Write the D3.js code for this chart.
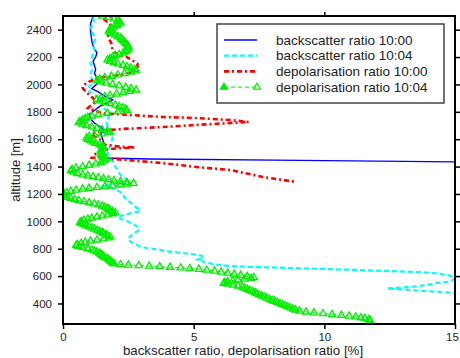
<!DOCTYPE html>
<html>
<head>
<meta charset="utf-8">
<script src="https://cdn.jsdelivr.net/npm/d3@7"></script>
<style>
  body { margin: 0; background: #fff; }
  svg { display: block; font-family: "Liberation Sans", Arial, sans-serif; }
</style>
</head>
<body>
<div id="chart"></div>
<script>
// backscatter ratio 10:00 (blue, solid)
const blueAlt = [2500, 2470, 2440, 2400, 2350, 2300, 2260, 2230, 2200, 2170, 2140, 2110, 2080, 2050, 2020, 1995, 1970, 1945, 1915, 1887, 1865, 1840, 1810, 1780, 1760, 1740, 1718, 1700, 1680, 1660, 1640, 1610, 1580, 1550, 1520, 1495, 1475, 1463, 1455, 1445, 1434, 1425];
const blueVal = [1.15, 1.1, 1.05, 1.05, 1.08, 1.12, 1.2, 1.3, 1.25, 1.15, 1.2, 1.25, 1.2, 1.3, 1.4, 1.25, 1.1, 1.35, 1.6, 1.9, 1.7, 1.4, 1.2, 1.0, 1.05, 1.1, 1.2, 1.35, 1.5, 1.55, 1.45, 1.5, 1.55, 1.5, 1.55, 1.5, 1.55, 1.6, 3.3, 9.1, 15.0, 16.5];

// backscatter ratio 10:04 (cyan, dashed)
const cyanAlt = [2490, 2460, 2430, 2400, 2370, 2340, 2310, 2280, 2250, 2220, 2190, 2160, 2130, 2100, 2070, 2040, 2010, 1985, 1960, 1935, 1910, 1880, 1850, 1820, 1790, 1760, 1730, 1700, 1670, 1640, 1610, 1580, 1550, 1520, 1490, 1460, 1430, 1400, 1370, 1340, 1310, 1290, 1275, 1262, 1248, 1225, 1200, 1175, 1150, 1120, 1095, 1075, 1055, 1040, 1025, 1005, 985, 960, 935, 910, 885, 860, 840, 820, 805, 795, 783, 770, 758, 750, 735, 720, 700, 685, 675, 668, 663, 658, 652, 645, 637, 630, 620, 605, 590, 575, 560, 550, 537, 525, 515, 510, 503, 495, 487, 480, 475, 470];
const cyanVal = [1.15, 1.2, 1.1, 1.05, 1.15, 1.25, 1.2, 1.15, 1.2, 1.15, 1.1, 1.05, 1.1, 1.1, 1.05, 1.1, 1.15, 1.0, 0.95, 1.1, 1.3, 1.45, 1.55, 1.6, 1.7, 1.75, 1.65, 1.7, 1.8, 1.85, 1.9, 1.85, 1.8, 1.75, 1.7, 1.8, 1.95, 2.0, 2.1, 2.2, 2.4, 2.5, 2.0, 1.5, 1.8, 2.1, 2.3, 2.35, 2.5, 2.7, 2.85, 2.95, 2.5, 2.2, 2.1, 2.4, 2.65, 2.85, 2.9, 2.7, 2.55, 2.5, 2.7, 2.9, 3.2, 3.6, 3.9, 4.5, 5.0, 5.3, 5.4, 5.15, 5.45, 5.8, 6.3, 7.0, 8.0, 9.0, 10.0, 11.2, 12.4, 13.6, 14.3, 14.75, 15.0, 14.95, 14.8, 14.3, 14.0, 13.5, 12.8, 12.4, 13.0, 13.5, 14.2, 14.8, 15.1, 15.6];

// depolarisation ratio 10:00 (red, dash-dot)
const redAlt = [2480, 2455, 2435, 2400, 2375, 2340, 2300, 2250, 2230, 2200, 2170, 2150, 2120, 2090, 2060, 2047, 2020, 1996, 1975, 1950, 1925, 1900, 1872, 1850, 1828, 1810, 1790, 1777, 1762, 1755, 1740, 1726, 1718, 1704, 1689, 1675, 1665, 1645, 1620, 1600, 1580, 1560, 1545, 1540, 1532, 1520, 1500, 1480, 1465, 1455, 1445, 1426, 1397, 1375, 1324, 1287];
const redVal = [1.55, 1.7, 1.8, 1.85, 1.7, 1.75, 1.85, 1.9, 2.0, 2.45, 2.7, 2.85, 2.85, 2.7, 1.9, 1.3, 1.0, 0.8, 0.75, 0.85, 1.0, 1.15, 1.25, 1.1, 0.95, 1.2, 1.5, 2.56, 3.83, 5.1, 6.4, 7.1, 6.4, 5.1, 3.83, 2.3, 1.6, 1.1, 1.2, 1.4, 1.5, 1.6, 2.2, 2.75, 2.0, 1.5, 1.3, 1.15, 1.1, 2.0, 2.6, 3.8, 5.1, 6.4, 7.65, 8.95];

// depolarisation ratio 10:04 (green, dashed with triangles)
const greenAlt = [2500, 2490, 2480, 2470, 2460, 2450, 2440, 2430, 2420, 2410, 2400, 2390, 2380, 2370, 2360, 2350, 2340, 2330, 2320, 2310, 2300, 2290, 2280, 2270, 2260, 2250, 2240, 2230, 2220, 2210, 2200, 2190, 2180, 2170, 2160, 2150, 2140, 2130, 2120, 2110, 2100, 2090, 2080, 2070, 2060, 2050, 2040, 2030, 2020, 2010, 2000, 1990, 1980, 1970, 1960, 1950, 1940, 1930, 1920, 1910, 1900, 1890, 1880, 1870, 1860, 1850, 1840, 1830, 1820, 1810, 1800, 1790, 1780, 1770, 1760, 1750, 1740, 1730, 1720, 1710, 1700, 1690, 1680, 1670, 1660, 1650, 1640, 1630, 1620, 1610, 1600, 1590, 1580, 1570, 1560, 1550, 1540, 1530, 1520, 1510, 1500, 1490, 1480, 1470, 1460, 1450, 1440, 1430, 1420, 1410, 1400, 1390, 1380, 1370, 1360, 1350, 1340, 1333, 1326, 1319, 1312, 1305, 1298, 1291, 1284, 1278, 1272, 1266, 1260, 1254, 1248, 1242, 1236, 1228, 1220, 1210, 1200, 1192, 1184, 1176, 1168, 1160, 1152, 1144, 1136, 1128, 1120, 1112, 1104, 1096, 1088, 1080, 1072, 1064, 1056, 1048, 1040, 1032, 1024, 1016, 1008, 1000, 992, 984, 976, 968, 960, 952, 944, 936, 928, 920, 912, 904, 896, 888, 880, 872, 864, 856, 848, 840, 832, 824, 816, 808, 800, 792, 784, 776, 768, 760, 752, 744, 736, 728, 720, 712, 704, 696, 690, 684, 681, 677, 673, 669, 665, 660, 655, 650, 644, 637, 630, 622, 614, 606, 598, 590, 584, 578, 572, 566, 560, 554, 548, 542, 535, 528, 520, 512, 504, 496, 488, 480, 472, 464, 456, 448, 440, 432, 424, 416, 408, 400, 392, 384, 376, 368, 360, 352, 345, 338, 332, 326, 320, 314, 308, 302, 296, 290, 284, 278];
const greenVal = [1.5, 1.75, 1.95, 2.1, 2.15, 2.2, 2.1, 2.05, 1.95, 1.85, 1.8, 1.75, 1.8, 1.9, 2.0, 2.1, 2.2, 2.25, 2.3, 2.35, 2.4, 2.45, 2.5, 2.5, 2.5, 2.45, 2.4, 2.3, 2.15, 2.0, 1.9, 1.8, 1.7, 1.8, 1.95, 2.1, 2.3, 2.45, 2.6, 2.75, 2.8, 2.6, 2.35, 2.1, 1.85, 1.6, 1.4, 1.3, 1.45, 1.65, 1.9, 2.15, 2.4, 2.6, 2.8, 2.55, 2.3, 2.05, 1.8, 1.6, 1.45, 1.3, 1.4, 1.6, 1.8, 2.0, 2.15, 2.3, 2.4, 2.45, 2.1, 1.7, 1.35, 1.1, 0.95, 0.85, 0.75, 0.65, 0.6, 0.75, 0.9, 1.1, 1.3, 1.5, 1.7, 1.8, 1.5, 1.2, 1.0, 0.9, 0.95, 1.05, 1.15, 1.25, 1.4, 1.5, 1.55, 1.5, 1.45, 1.45, 1.5, 1.45, 1.5, 1.55, 1.65, 1.6, 1.55, 1.45, 1.25, 1.0, 0.75, 0.5, 0.35, 0.3, 0.4, 0.55, 0.75, 0.95, 1.15, 1.35, 1.55, 1.75, 1.95, 2.2, 2.45, 2.7, 2.45, 2.2, 1.9, 1.6, 1.3, 1.0, 0.75, 0.5, 0.3, 0.15, 0.05, 0.0, 0.05, 0.15, 0.3, 0.45, 0.6, 0.8, 1.0, 1.2, 1.35, 1.5, 1.6, 1.7, 1.75, 1.8, 1.9, 2.0, 1.9, 1.7, 1.5, 1.3, 1.1, 0.95, 0.8, 0.7, 0.65, 0.7, 0.8, 0.9, 1.0, 1.1, 1.2, 1.3, 1.4, 1.5, 1.55, 1.65, 1.7, 1.8, 1.75, 1.55, 1.3, 1.05, 0.85, 0.7, 0.55, 0.5, 0.6, 0.75, 0.95, 1.1, 1.2, 1.3, 1.4, 1.45, 1.5, 1.55, 1.6, 1.7, 1.75, 1.8, 1.85, 1.9, 1.95, 2.2, 2.5, 2.9, 3.3, 3.7, 4.1, 4.5, 4.85, 5.2, 5.5, 5.8, 6.05, 6.3, 6.55, 6.8, 7.05, 7.3, 7.2, 6.95, 6.7, 6.5, 6.3, 6.2, 6.15, 6.3, 6.5, 6.7, 6.85, 6.95, 7.05, 7.15, 7.25, 7.35, 7.4, 7.5, 7.6, 7.7, 7.8, 7.9, 8.0, 8.1, 8.2, 8.3, 8.4, 8.5, 8.6, 8.7, 8.8, 8.9, 9.05, 9.3, 9.6, 9.95, 10.3, 10.65, 10.95, 11.2, 11.4, 11.55, 11.7, 11.75];

const xTicks = [0, 5, 10, 15];
const yTicks = [400, 600, 800, 1000, 1200, 1400, 1600, 1800, 2000, 2200, 2400];
const seriesNames = ['backscatter ratio 10:00', 'backscatter ratio 10:04', 'depolarisation ratio 10:00', 'depolarisation ratio 10:04'];

const width = 460;
const height = 358;
const margin = { top: 16, right: 5, bottom: 34, left: 63 };

const x = d3.scaleLinear().domain([0, 15]).range([margin.left, width - margin.right]);
const y = d3.scaleLinear().domain([250, 2500]).range([height - margin.bottom, margin.top]);

const svg = d3.select('#chart').append('svg')
    .attr('width', width)
    .attr('height', height);

svg.append('clipPath').attr('id', 'plot')
    .append('rect')
    .attr('x', x(0)).attr('y', y(2500))
    .attr('width', x(15) - x(0)).attr('height', y(250) - y(2500));

const styles = [
    { color: '#0000ff', width: 1.4, dash: null },
    { color: '#00ffff', width: 2.2, dash: '5,3' },
    { color: '#ff0000', width: 2.6, dash: '5,3,2,3' },
    { color: '#00ee00', width: 1, dash: '4,3' }
];

const series = [
    d3.zip(blueAlt, blueVal),
    d3.zip(cyanAlt, cyanVal),
    d3.zip(redAlt, redVal),
    d3.zip(greenAlt, greenVal)
];

const line = d3.line().x(d => x(d[1])).y(d => y(d[0]));
const tri = d3.symbol().type(d3.symbolTriangle).size(22);

const plot = svg.append('g').attr('clip-path', 'url(#plot)');

series.forEach((s, i) => {
    plot.append('path')
        .datum(s)
        .attr('fill', 'none')
        .attr('stroke', styles[i].color)
        .attr('stroke-width', styles[i].width)
        .attr('stroke-dasharray', styles[i].dash)
        .attr('d', line);
});

// triangles for the 10:04 depolarisation profile
plot.append('g')
    .selectAll('path')
    .data(series[3])
    .join('path')
    .attr('transform', d => `translate(${x(d[1])},${y(d[0])})`)
    .attr('d', tri)
    .attr('fill', 'none')
    .attr('stroke', styles[3].color)
    .attr('stroke-width', 1.3);

// axes
const tickFont = g => g.selectAll('text').attr('font-size', 11.5).attr('fill', '#222');

svg.append('g')
    .attr('transform', `translate(${x(0)},0)`)
    .call(d3.axisLeft(y).tickValues(yTicks).tickSize(5).tickPadding(6).tickFormat(d3.format('d')))
    .call(g => g.select('.domain').remove())
    .call(tickFont);

svg.append('g')
    .attr('transform', `translate(${x(15)},0)`)
    .call(d3.axisRight(y).tickValues(yTicks).tickSize(5).tickFormat(''))
    .call(g => g.select('.domain').remove());

svg.append('g')
    .attr('transform', `translate(0,${y(250)})`)
    .call(d3.axisBottom(x).tickValues(xTicks).tickSize(5).tickPadding(4))
    .call(g => g.select('.domain').remove())
    .call(tickFont)
    // the last label sits right at the edge of the picture
    .call(g => g.selectAll('text').filter(d => d === 15).attr('dx', -3));

svg.append('g')
    .attr('transform', `translate(0,${y(2500)})`)
    .call(d3.axisTop(x).tickValues([5, 10]).tickSize(4).tickFormat(''))
    .call(g => g.select('.domain').remove());

svg.selectAll('.tick line').attr('stroke', '#000').attr('stroke-width', 1.5);

// frame
svg.append('rect')
    .attr('x', x(0)).attr('y', y(2500))
    .attr('width', x(15) - x(0)).attr('height', y(250) - y(2500))
    .attr('fill', 'none')
    .attr('stroke', '#000')
    .attr('stroke-width', 2);

// axis titles
svg.append('text')
    .attr('x', (x(0) + x(15)) / 2 - 16)
    .attr('y', 355)
    .attr('text-anchor', 'middle')
    .attr('font-size', 13.3)
    .attr('fill', '#222')
    .text('backscatter ratio, depolarisation ratio [%]');

svg.append('text')
    .attr('transform', `translate(20,${(y(250) + y(2500)) / 2}) rotate(-90)`)
    .attr('text-anchor', 'middle')
    .attr('font-size', 13)
    .attr('fill', '#222')
    .text('altitude [m]');

// legend
const legend = svg.append('g').attr('transform', 'translate(217,24)');
legend.append('rect')
    .attr('width', 227).attr('height', 79)
    .attr('fill', '#fff')
    .attr('stroke', '#444')
    .attr('stroke-width', 1.5);

seriesNames.forEach((name, i) => {
    const ly = 16 + i * 15.7;
    legend.append('line')
        .attr('x1', 7).attr('x2', 40)
        .attr('y1', ly).attr('y2', ly)
        .attr('stroke', styles[i].color)
        .attr('stroke-width', styles[i].width)
        .attr('stroke-dasharray', styles[i].dash);
    if (i === 3) {
        [7, 40].forEach(lx => {
            legend.append('path')
                .attr('transform', `translate(${lx},${ly})`)
                .attr('d', tri)
                .attr('fill', lx === 7 ? styles[3].color : 'none')
                .attr('stroke', styles[3].color)
                .attr('stroke-width', 1.2);
        });
    }
    legend.append('text')
        .attr('x', 59).attr('y', ly + 4.5)
        .attr('font-size', 13.5)
        .attr('fill', '#222')
        .text(name);
});
</script>
</body>
</html>
